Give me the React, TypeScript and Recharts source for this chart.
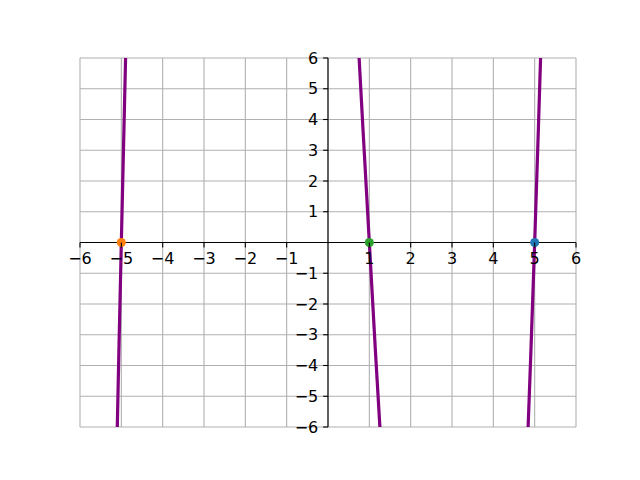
import {
  ComposedChart,
  Line,
  Scatter,
  Cell,
  XAxis,
  YAxis,
  ReferenceLine,
  ReferenceDot,
} from "recharts";

// tick values on both centred axes
const ticks = [-6, -5, -4, -3, -2, -1, 0, 1, 2, 3, 4, 5, 6];

// three visible branches of the curve
const leftX = [-5.12, -5.06, -5, -4.94, -4.88];
const leftY = [-7.4, -3.6, 0, 3.5, 7.0];
const midX = [0.7, 0.85, 1, 1.15, 1.3];
const midY = [7.3, 3.6, 0, -3.6, -7.0];
const rightX = [4.82, 4.91, 5, 5.09, 5.18];
const rightY = [-6.8, -3.5, 0, 3.7, 7.6];

// roots marked with dots
const rootX = [-5, 1, 5];
const rootY = [0, 0, 0];
const rootColors = ["#ff7f0e", "#2ca02c", "#1f77b4"];

const toPts = (xs: number[], ys: number[]) => xs.map((x, i) => ({ x, y: ys[i] }));
const left = toPts(leftX, leftY);
const mid = toPts(midX, midY);
const right = toPts(rightX, rightY);
const roots = toPts(rootX, rootY);

const font = "DejaVu Sans";
const fs = 16;

const XTick = (t: number) => (props: any) => {
  const { cx, cy } = props;
  return (
    <g>
      <line x1={cx} y1={cy} x2={cx} y2={cy + 4.9} stroke="#000" strokeWidth={1.1} />
      <text x={cx} y={cy + 9.7} textAnchor="middle" dominantBaseline="hanging" fontFamily={font} fontSize={fs} fill="#000">
        {t < 0 ? `\u2212${-t}` : `${t}`}
      </text>
    </g>
  );
};

const YTick = (t: number) => (props: any) => {
  const { cx, cy } = props;
  return (
    <g>
      <line x1={cx - 4.9} y1={cy} x2={cx} y2={cy} stroke="#000" strokeWidth={1.1} />
      <text x={cx - 9.7} y={cy} textAnchor="end" dominantBaseline="central" fontFamily={font} fontSize={fs} fill="#000">
        {t < 0 ? `\u2212${-t}` : `${t}`}
      </text>
    </g>
  );
};

export default function App() {
  return (
    <div style={{ position: "absolute", left: 0, top: 0, background: "#fff" }}>
      <ComposedChart width={640} height={480} margin={{ top: 58, right: 64, bottom: 53, left: 80 }}>
        <XAxis
          dataKey="x"
          type="number"
          domain={[-6, 6]}
          ticks={ticks}
          allowDataOverflow
          height={0}
          tick={false}
          tickLine={false}
          axisLine={false}
        />
        <YAxis
          dataKey="y"
          type="number"
          domain={[-6, 6]}
          ticks={ticks}
          allowDataOverflow
          width={0}
          tick={false}
          tickLine={false}
          axisLine={false}
        />
        {ticks.map((t) => (
          <ReferenceLine key={`gx${t}`} x={t} stroke="#b0b0b0" strokeWidth={1.1} />
        ))}
        {ticks.map((t) => (
          <ReferenceLine key={`gy${t}`} y={t} stroke="#b0b0b0" strokeWidth={1.1} />
        ))}
        <Scatter data={roots} dataKey="y" isAnimationActive={false} shape="circle">
          {roots.map((_, i) => (
            <Cell key={i} fill={rootColors[i]} />
          ))}
        </Scatter>
        <ReferenceLine y={0} stroke="#000" strokeWidth={1.1} />
        <ReferenceLine x={0} stroke="#000" strokeWidth={1.1} />
        <Line data={left} dataKey="y" stroke="#800080" strokeWidth={3.2} dot={false} isAnimationActive={false} />
        <Line data={mid} dataKey="y" stroke="#800080" strokeWidth={3.2} dot={false} isAnimationActive={false} />
        <Line data={right} dataKey="y" stroke="#800080" strokeWidth={3.2} dot={false} isAnimationActive={false} />
        {ticks.filter((t) => t !== 0).map((t) => (
          <ReferenceDot key={`x${t}`} x={t} y={0} r={0} shape={XTick(t)} />
        ))}
        {ticks.filter((t) => t !== 0).map((t) => (
          <ReferenceDot key={`y${t}`} x={0} y={t} r={0} shape={YTick(t)} />
        ))}
      </ComposedChart>
    </div>
  );
}
